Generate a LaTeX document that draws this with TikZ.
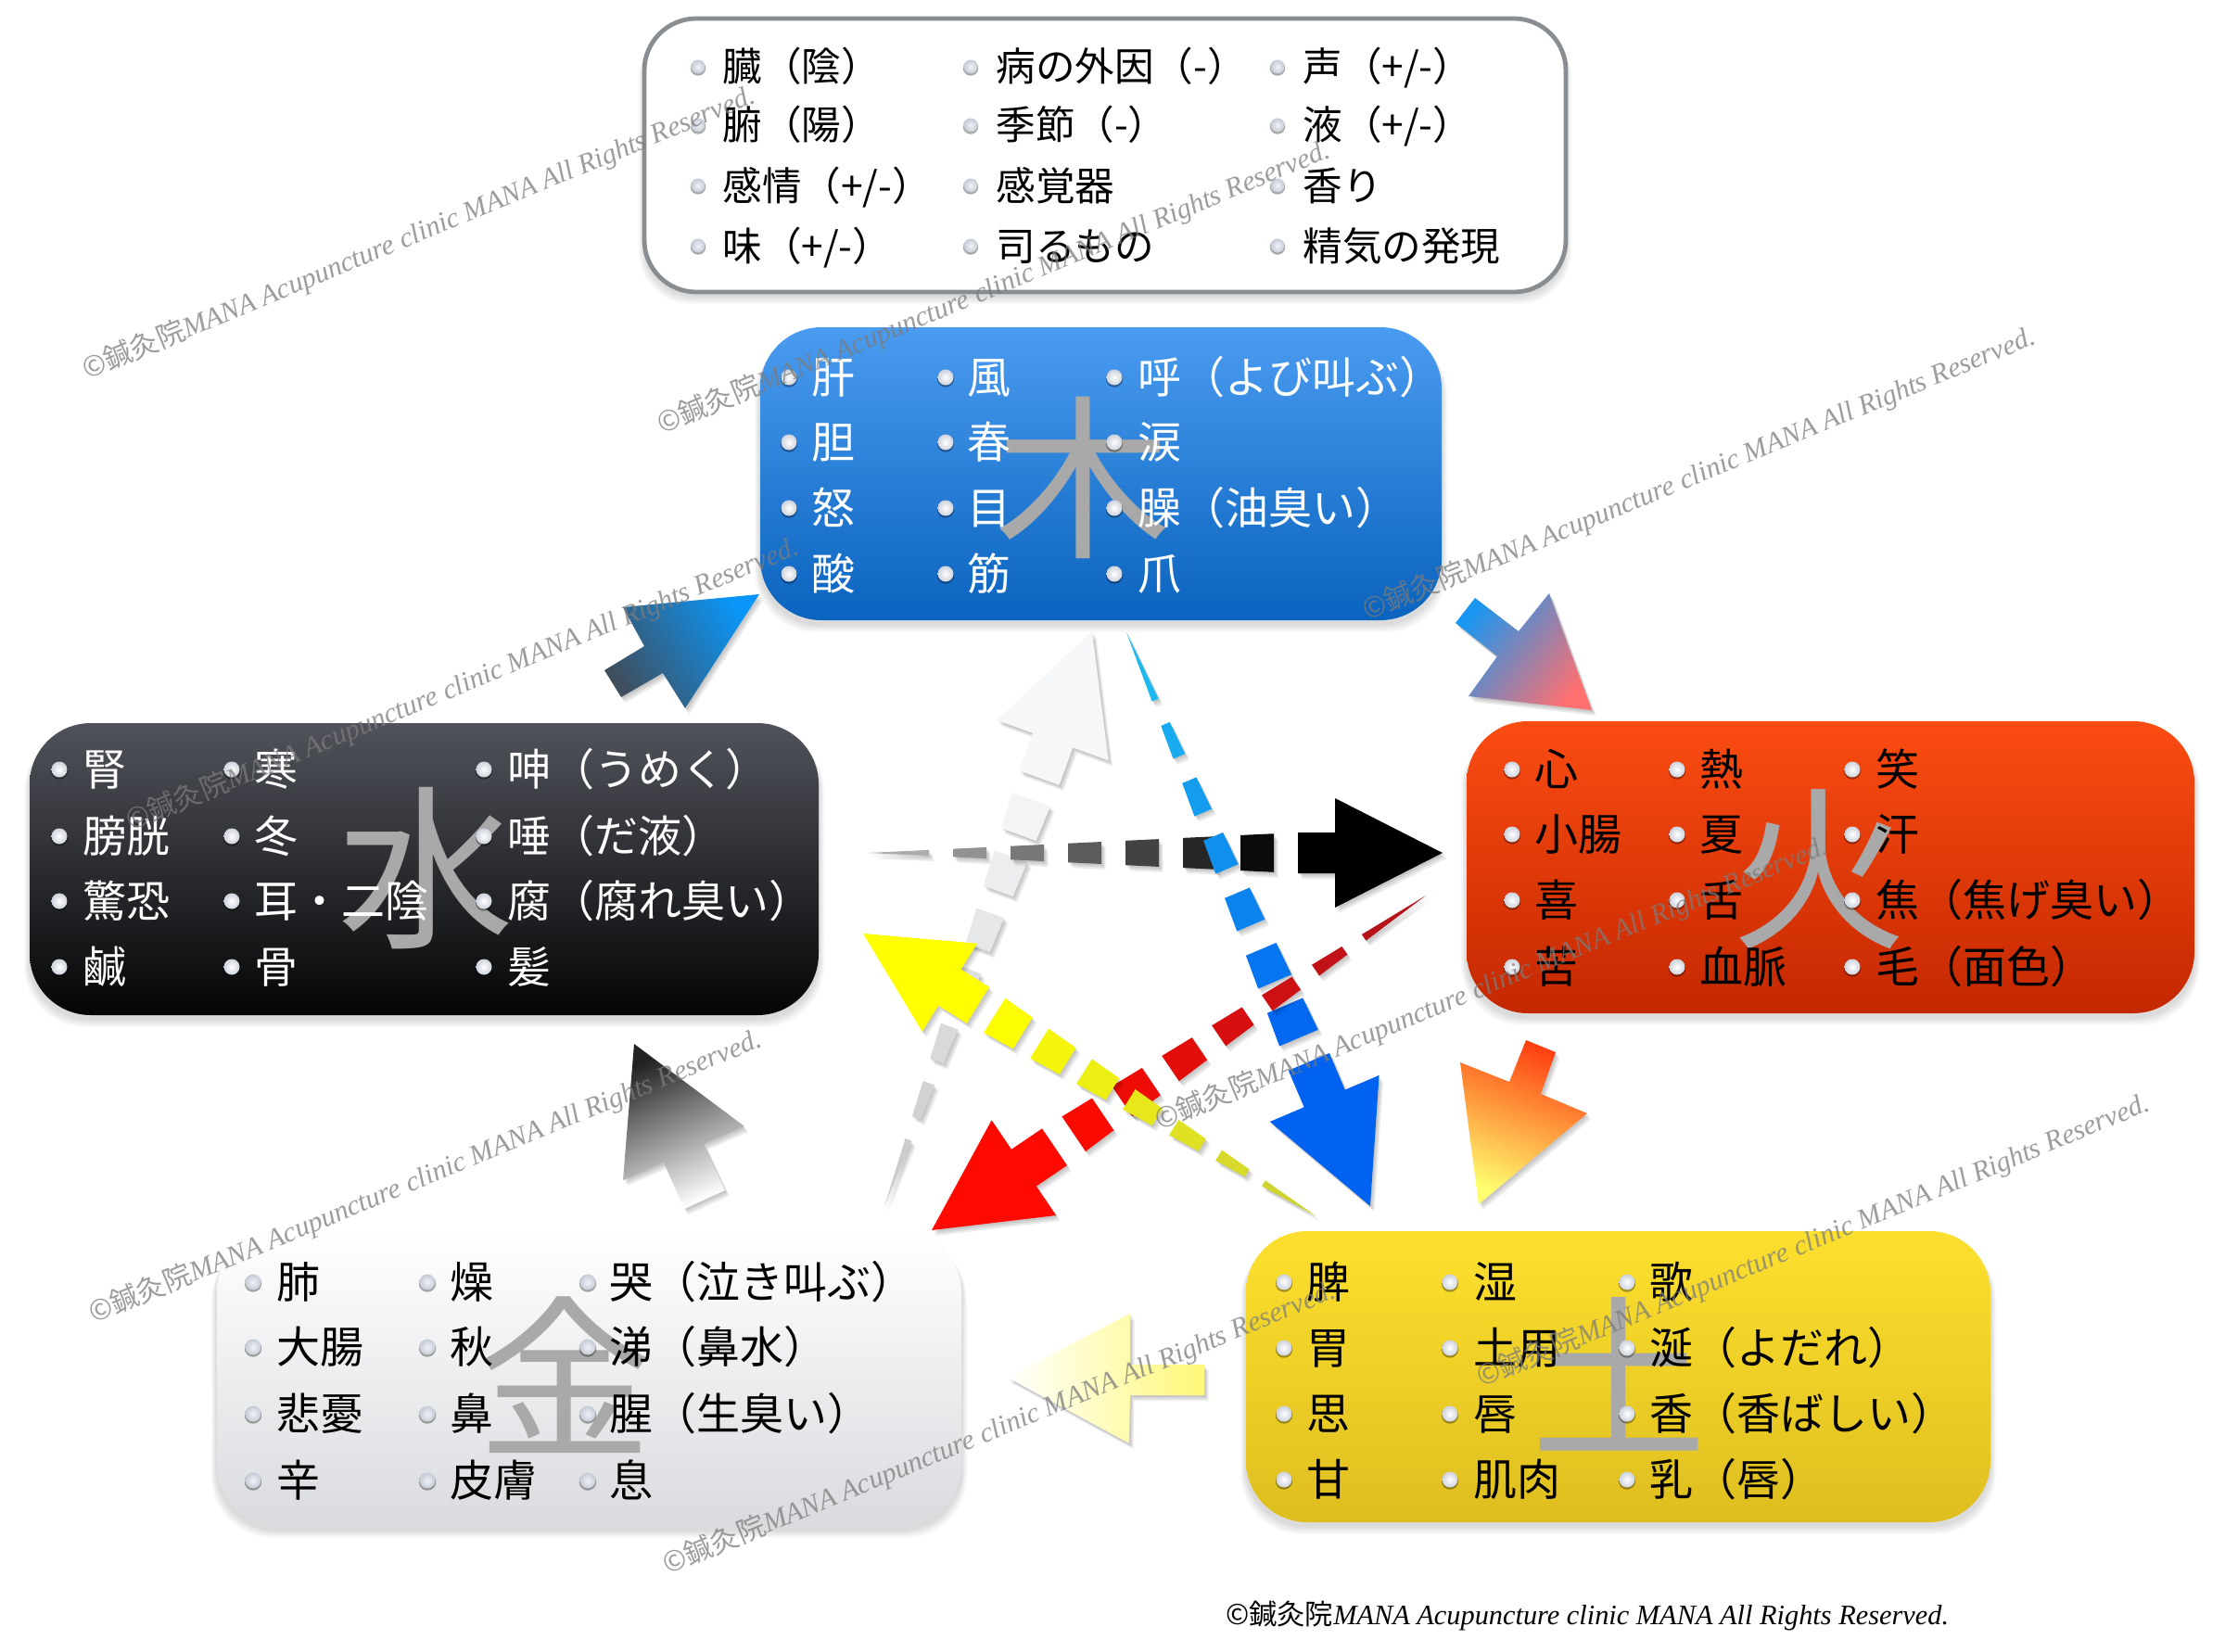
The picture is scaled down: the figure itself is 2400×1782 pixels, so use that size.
\documentclass[tikz,border=0pt]{standalone}
\usepackage{fontspec}
\setmainfont{Noto Sans CJK JP}
\newfontfamily\rklatin{Liberation Serif}
\definecolor{cWoodT}{HTML}{4A9CF0}\definecolor{cWoodB}{HTML}{0A63BE}
\definecolor{cFireT}{HTML}{FB4C12}\definecolor{cFireB}{HTML}{C42800}
\definecolor{cWaterT}{HTML}{50535B}\definecolor{cWaterB}{HTML}{050505}
\definecolor{cMetalT}{HTML}{FFFFFF}\definecolor{cMetalB}{HTML}{DADBDF}
\definecolor{cEarthT}{HTML}{FDE02E}\definecolor{cEarthB}{HTML}{DEBE1F}
\definecolor{cBig}{HTML}{A9A9A9}
\definecolor{cLegend}{HTML}{888D92}
\definecolor{cMark}{HTML}{7C7C7C}
\newcount\rkn
\def\rkrows#1#2#3#4{\def\rkya{#1}\def\rkyb{#2}\def\rkyc{#3}\def\rkyd{#4}}
\def\rktext{black}
\def\rkfs{21.3}
\def\rkbase{16}
\def\rkdx{-1}
\newcommand\rkone[4]{% bullet x, text x, y, text
  \fill[black,opacity=.35] (#1,#3+1.5) circle[radius=\rkbr+0.7];
  \shade[inner color=rkBi,outer color=rkBo] (#1,#3) circle[radius=\rkbr];
  \global\advance\rkn by 1
  \pgfmathsetmacro\rkby{#3+\rkbase}
  \pgfmathsetmacro\rkbx{#2+\rkdx}
  \node[anchor=base west,inner sep=0pt,text=\rktext,font=\fontsize{\rkfs pt}{26pt}\selectfont] (item\the\rkn) at (\rkbx,\rkby) {#4};
}
\newcommand\rkcol[6]{%
  \rkone{#1}{#2}{\rkya}{#3}\rkone{#1}{#2}{\rkyb}{#4}\rkone{#1}{#2}{\rkyc}{#5}\rkone{#1}{#2}{\rkyd}{#6}}
\newcommand\rkpanel[9]{% name x1 y1 x2 y2 top bottom radius extra
  \foreach \k in {1,...,6}{\fill[black,opacity=.025,rounded corners=#8pt] (#2-\k,#3+5+\k*0.5) rectangle (#4+\k,#5+4+\k*1.5);}
  \pgfmathsetmacro\rkw{(#4-#2)*0.5}\pgfmathsetmacro\rkhh{(#5-#3)*0.5}
  \node[rectangle,inner sep=0pt,outer sep=0pt,minimum width=\rkw pt,minimum height=\rkhh pt,rounded corners=#8pt,top color=#6,bottom color=#7,#9] (#1) at ({(#2+#4)/2},{(#3+#5)/2}) {};
}
\newcommand\rkbig[4]{% name x y glyph
  \pgfmathsetmacro\rkby{#3+72}
  \node[anchor=base,inner sep=0pt,text=cBig,font=\fontsize{95pt}{100pt}\selectfont] (#1) at (#2,\rkby) {#4};
}
\newcommand\rkgrad[3]{% path, options, angle
  \foreach \k in {1,2,3}{\fill[black,opacity=.08,shift={(\k*1.5,\k*2)}] #1;}
  \shade[#2,shading angle=#3] #1;
}
\def\rkparse#1/#2/#3/#4/#5/#6\rkend{\def\rkh{#1}\def\rkhw{#2}\def\rksw{#3}\def\rkst{#4}\def\rkp{#5}\def\rkd{#6}}
\newcommand\rkpaint[1]{% #1: shadow (1) or real (0); geometry in local coordinates
  \foreach \i in {0,...,20}{
    \pgfmathsetmacro\rke{\rkus-(\rkp-\rkd)-\i*\rkp}
    \pgfmathsetmacro\rkb{\rke-\rkd}
    \pgfmathparse{(\rke-\rkp)<(0.4*\rkp)?1:0}\let\rklast\pgfmathresult
    \ifdim\rklast pt>0pt \def\rkb{0}\fi
    \pgfmathsetmacro\rkwe{\rksw*(\rke/\rkus)}
    \pgfmathsetmacro\rkwb{\rksw*(\rkb/\rkus)}
    \pgfmathtruncatemacro\rkmix{100*(\rke/\rkus)}
    \ifnum#1=1
      \fill[black,opacity=.08] (\rkb,\rkwb) -- (\rke,\rkwe) -- (\rke,-\rkwe) -- (\rkb,-\rkwb) -- cycle;
    \else
      \fill[color=\rkch!\rkmix!\rkct] (\rkb,\rkwb) -- (\rke,\rkwe) -- (\rke,-\rkwe) -- (\rkb,-\rkwb) -- cycle;
    \fi
    \ifdim\rklast pt>0pt \breakforeach\fi
  }
  \ifnum#1=1
    \fill[black,opacity=.08] (\rkus,\rksw) -- (\rkuh,\rksw) -- (\rkuh,\rkhw) -- (\rklen,0) -- (\rkuh,-\rkhw) -- (\rkuh,-\rksw) -- (\rkus,-\rksw) -- cycle;
  \else
    \fill[color=\rkch] (\rkus,\rksw) -- (\rkuh,\rksw) -- (\rkuh,\rkhw) -- (\rklen,0) -- (\rkuh,-\rkhw) -- (\rkuh,-\rksw) -- (\rkus,-\rksw) -- cycle;
  \fi
}
\newcommand\rkarrow[8]{% name Sx Sy Tx Ty tailcolor headcolor h/H/w/st/p/d
  \coordinate (#1-tail) at (#2,#3);
  \coordinate (#1-tip) at (#4,#5);
  \rkparse#8\rkend
  \def\rkct{#6}\def\rkch{#7}
  \pgfmathsetmacro\rkang{atan2(-(#5-#3),(#4-#2))}
  \pgfmathsetmacro\rklen{veclen(#4-#2,#5-#3)}
  \pgfmathsetmacro\rkuh{\rklen-\rkh}
  \pgfmathsetmacro\rkus{\rkuh-\rkst}
  \foreach \k in {1,2,3}{
    \begin{scope}[shift={(#2+\k*1.5,#3+\k*2)},rotate=\rkang]
      \rkpaint{1}
    \end{scope}}
  \begin{scope}[shift={(#2,#3)},rotate=\rkang]
    \rkpaint{0}
  \end{scope}
}
\newcommand\rkmsg{{\fontsize{20pt}{22pt}\selectfont ©鍼灸院{\rklatin\itshape MANA Acupuncture clinic MANA All Rights Reserved.}}}
\newcommand\rkmark[3]{% name x y
  \node[rotate=22.5,inner sep=0pt,text=cMark,opacity=.75] (#1) at ({#2-9},#3) {\resizebox{391pt}{!}{\rkmsg}};
}
\colorlet{rkBi}{white}\definecolor{rkBo}{HTML}{CDD2DC}
\def\rkbr{8.5}
\newcommand\plmn{+/-}
\begin{document}
\begin{tikzpicture}[x=0.5pt,y=-0.5pt]
\useasboundingbox (0,0) rectangle (2400,1782);
\fill[white] (0,0) rectangle (2400,1782);
% Legend
\rkpanel{legend}{695}{20}{1689}{315}{white}{white}{28}{draw=cLegend,line width=2.4pt}
\definecolor{rkBi}{HTML}{F0F3F7}\definecolor{rkBo}{HTML}{C4CAD6}
\def\rkbr{7.5}
\rkrows{72}{135}{200}{265}
\rkcol{753}{780}{臓（陰）}{腑（陽）}{感情（\plmn）}{味（\plmn）}
\rkcol{1047}{1075}{病の外因（-）}{季節（-）}{感覚器}{司るもの}
\rkcol{1378}{1406}{声（\plmn）}{液（\plmn）}{香り}{精気の発現}
\def\rkfs{23.5}
\def\rkbase{17.7}
\def\rkdx{-3}
% Wood
\colorlet{rkBi}{white}\definecolor{rkBo}{HTML}{CDD2DC}
\def\rkbr{8.5}
\rkpanel{wood}{820}{353}{1555}{669}{cWoodT}{cWoodB}{33}{}
\rkbig{woodbig}{1168}{515}{木}
\def\rktext{white}
\rkrows{407}{477}{548}{619}
\rkcol{851}{878}{肝}{胆}{怒}{酸}
\rkcol{1020}{1046}{風}{春}{目}{筋}
\rkcol{1202}{1230}{呼（よび叫ぶ）}{涙}{臊（油臭い）}{爪}
% Water
\rkpanel{water}{32}{780}{883}{1095}{cWaterT}{cWaterB}{33}{}
\rkbig{waterbig}{459}{936}{水}
\rkrows{830}{902}{972}{1043}
\rkcol{64}{92}{腎}{膀胱}{驚恐}{鹹}
\rkcol{250}{277}{寒}{冬}{耳・二陰}{骨}
\rkcol{522}{550}{呻（うめく）}{唾（だ液）}{腐（腐れ臭い）}{髪}
% Fire
\def\rktext{black}
\rkpanel{fire}{1582}{778}{2367}{1093}{cFireT}{cFireB}{33}{}
\rkbig{firebig}{1962}{936}{火}
\rkrows{830}{900}{971}{1043}
\rkcol{1631}{1658}{心}{小腸}{喜}{苦}
\rkcol{1809}{1836}{熱}{夏}{舌}{血脈}
\rkcol{1998}{2026}{笑}{汗}{焦（焦げ臭い）}{毛（面色）}
% Earth
\rkpanel{earth}{1344}{1328}{2147}{1642}{cEarthT}{cEarthB}{33}{}
\rkbig{earthbig}{1746}{1486}{土}
\rkrows{1383}{1454}{1525}{1596}
\rkcol{1385}{1412}{脾}{胃}{思}{甘}
\rkcol{1564}{1592}{湿}{土用}{唇}{肌肉}
\rkcol{1755}{1782}{歌}{涎（よだれ）}{香（香ばしい）}{乳（唇）}
% Metal
\rkpanel{metal}{234}{1328}{1037}{1646}{cMetalT}{cMetalB}{33}{}
\rkbig{metalbig}{609}{1486}{金}
\definecolor{rkBi}{HTML}{F0F3F7}\definecolor{rkBo}{HTML}{C4CAD6}
\rkrows{1383}{1453}{1525}{1597}
\rkcol{273}{301}{肺}{大腸}{悲憂}{辛}
\rkcol{461}{488}{燥}{秋}{鼻}{皮膚}
\rkcol{634}{660}{哭（泣き叫ぶ）}{涕（鼻水）}{腥（生臭い）}{息}
% Short arrows (shapes with colour gradients)
\definecolor{aA}{HTML}{3F4F5E}\definecolor{aB}{HTML}{0A96F8}
\rkgrad{(819,641) -- (672,655) -- (695,697) -- (652,723) -- (670,752) -- (715,726) -- (739,764) -- cycle}{left color=aA,right color=aB}{121}
\definecolor{bA}{HTML}{1A96F0}\definecolor{bM}{HTML}{8A80A8}\definecolor{bB}{HTML}{FF7070}
\rkgrad{(1717,766) -- (1671,640) -- (1638,681) -- (1591,645) -- (1570,672) -- (1615,708) -- (1584,751) -- cycle}{left color=bA,middle color=bM,right color=bB}{52}
\definecolor{cA}{HTML}{FF3F10}\definecolor{cB}{HTML}{FFFF70}
\rkgrad{(1595,1299) -- (1712,1201) -- (1662,1180) -- (1678,1135) -- (1646,1122) -- (1628,1167) -- (1575,1146) -- cycle}{left color=cA,right color=cB}{-21}
\definecolor{dA}{HTML}{FFF878}
\rkgrad{(1087,1486) -- (1219,1417) -- (1219,1472) -- (1299,1472) -- (1299,1505) -- (1219,1505) -- (1218,1557) -- cycle}{left color=dA,middle color=white!85!dA,right color=white}{270}
\definecolor{eB}{HTML}{222222}
\rkgrad{(684,1126) -- (803,1215) -- (759,1234) -- (782,1284) -- (738,1304) -- (716,1254) -- (672,1273) -- cycle}{left color=white,middle color=black!50,right color=eB}{204}
% Long dashed arrows
\definecolor{fT}{HTML}{C4C4C4}\definecolor{fH}{HTML}{F6F7F9}
\rkarrow{white}{954}{1301}{1178}{681}{fT}{fH}{125/64/23/43/65/40}
\definecolor{gT}{HTML}{C8C8C8}\definecolor{gH}{HTML}{000000}
\rkarrow{black}{936}{920}{1556}{920}{gT}{gH}{116/59/22/40/62/36}
\definecolor{hT}{HTML}{22C8EE}\definecolor{hH}{HTML}{0062F0}
\rkarrow{blue}{1215}{682}{1478}{1301}{hT}{hH}{126/64/24/43/66/38}
\definecolor{iT}{HTML}{A81520}\definecolor{iH}{HTML}{FE0A00}
\rkarrow{red}{1538}{966}{1005}{1327}{iT}{iH}{120/62/24/40/63/38}
\definecolor{jT}{HTML}{C8CC3A}\definecolor{jH}{HTML}{FFFF00}
\rkarrow{yellow}{1420}{1312}{931}{1007}{jT}{jH}{110/56/23/36/57/36}
% Watermarks
\rkmark{m1}{461}{251}
\rkmark{m2}{1081}{310}
\rkmark{m3}{1842}{511}
\rkmark{m4}{508}{738}
\rkmark{m5}{1618}{1061}
\rkmark{m6}{468}{1269}
\rkmark{m7}{1965}{1338}
\rkmark{m8}{1087}{1540}
\node[inner sep=0pt,text=black] (footer) at (1712,1743) {\resizebox{390pt}{!}{\rkmsg}};
\end{tikzpicture}
\end{document}
